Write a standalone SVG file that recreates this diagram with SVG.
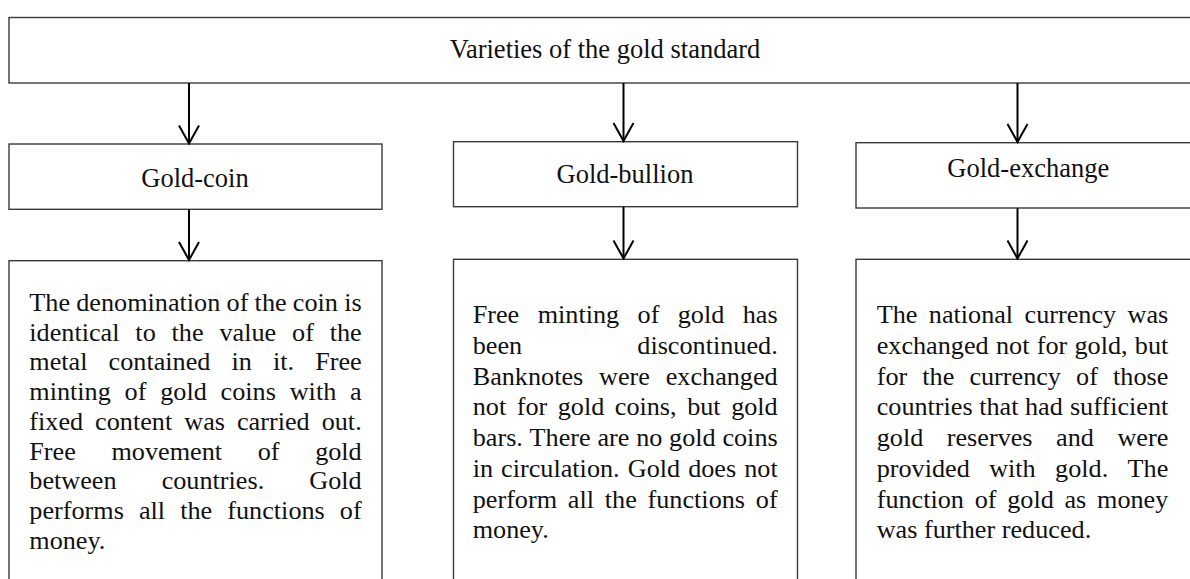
<svg xmlns="http://www.w3.org/2000/svg" width="1190" height="579" viewBox="0 0 1190 579">
<style>
.box{fill:#fff;stroke:#3a3a3a;stroke-width:1.4}
.lbl{font-size:26.5px;fill:#111;text-anchor:middle}
.bd{font-size:26.2px;fill:#111}
.e{text-anchor:end}
.arr{stroke:#000;stroke-width:2;fill:none}
</style>
<defs>
<marker id="ah" viewBox="-2 -12 22 24" refX="18" refY="0" markerWidth="22" markerHeight="24" markerUnits="userSpaceOnUse" orient="auto">
<path d="M0,-10 L18,0 L0,10" fill="none" stroke="#000" stroke-width="2"/>
</marker>
</defs>
<rect width="1190" height="579" fill="#fff"/>
<g font-family="'Liberation Serif', 'Times New Roman', Times, serif">
<g id="root">
<rect class="box" x="9" y="17.5" width="1200" height="65.5"/>
<text class="lbl" x="605" y="58.3">Varieties of the gold standard</text>
</g>
<g id="coin">
<rect class="box" x="9" y="144" width="373" height="65.3"/>
<text class="lbl" x="195" y="187.3">Gold-coin</text>
</g>
<g id="bullion">
<rect class="box" x="453.5" y="141.7" width="344" height="65"/>
<text class="lbl" x="625" y="183.3">Gold-bullion</text>
</g>
<g id="exchange">
<rect class="box" x="856" y="142.7" width="345" height="65.3"/>
<text class="lbl" x="1028.3" y="176.7">Gold-exchange</text>
</g>
<g id="coin-desc">
<rect class="box" x="9" y="260.7" width="373" height="340"/>
<text class="bd" y="311"><tspan x="29.3">The</tspan><tspan x="76.26">denomination</tspan><tspan x="226.58">of</tspan><tspan x="254.62">the</tspan><tspan x="292.86">coin</tspan></text>
<text class="bd e" x="361.7" y="311">is</text>
<text class="bd" y="340.7"><tspan x="29.3">identical</tspan><tspan x="135.37">to</tspan><tspan x="171.59">the</tspan><tspan x="219.45">value</tspan><tspan x="292.04">of</tspan></text>
<text class="bd e" x="361.7" y="340.7">the</text>
<text class="bd" y="370.4"><tspan x="29.3">metal</tspan><tspan x="108.59">contained</tspan><tspan x="231.53">in</tspan><tspan x="272.98">it.</tspan></text>
<text class="bd e" x="361.7" y="370.4">Free</text>
<text class="bd" y="400.1"><tspan x="29.3">minting</tspan><tspan x="124.62">of</tspan><tspan x="160.23">gold</tspan><tspan x="220.6">coins</tspan><tspan x="289.7">with</tspan></text>
<text class="bd e" x="361.7" y="400.1">a</text>
<text class="bd" y="429.8"><tspan x="29.3">fixed</tspan><tspan x="95.12">content</tspan><tspan x="184.23">was</tspan><tspan x="236.95">carried</tspan></text>
<text class="bd e" x="361.7" y="429.8">out.</text>
<text class="bd" y="459.5"><tspan x="29.3">Free</tspan><tspan x="111.47">movement</tspan><tspan x="257.7">of</tspan></text>
<text class="bd e" x="361.7" y="459.5">gold</text>
<text class="bd" y="489.2"><tspan x="29.3">between</tspan><tspan x="161.65">countries.</tspan></text>
<text class="bd e" x="361.7" y="489.2">Gold</text>
<text class="bd" y="518.9"><tspan x="29.3">performs</tspan><tspan x="138.95">all</tspan><tspan x="180.22">the</tspan><tspan x="227.31">functions</tspan></text>
<text class="bd e" x="361.7" y="518.9">of</text>
<text class="bd" x="29.3" y="548.6">money.</text>
</g>
<g id="bullion-desc">
<rect class="box" x="453.5" y="259.3" width="344" height="340"/>
<text class="bd" y="323.3"><tspan x="472.7">Free</tspan><tspan x="537.65">minting</tspan><tspan x="637.57">of</tspan><tspan x="677.78">gold</tspan></text>
<text class="bd e" x="777.7" y="323.3">has</text>
<text class="bd" x="472.7" y="354">been</text>
<text class="bd e" x="777.7" y="354">discontinued.</text>
<text class="bd" y="384.7"><tspan x="472.7">Banknotes</tspan><tspan x="599.04">were</tspan></text>
<text class="bd e" x="777.7" y="384.7">exchanged</text>
<text class="bd" y="415.4"><tspan x="472.7">not</tspan><tspan x="516.67">for</tspan><tspan x="557.71">gold</tspan><tspan x="614.78">coins,</tspan><tspan x="687.13">but</tspan></text>
<text class="bd e" x="777.7" y="415.4">gold</text>
<text class="bd" y="446.1"><tspan x="472.7">bars.</tspan><tspan x="529.62">There</tspan><tspan x="597.44">are</tspan><tspan x="636.15">no</tspan><tspan x="669.07">gold</tspan></text>
<text class="bd e" x="777.7" y="446.1">coins</text>
<text class="bd" y="476.8"><tspan x="472.7">in</tspan><tspan x="501.11">circulation.</tspan><tspan x="627.75">Gold</tspan><tspan x="688.18">does</tspan></text>
<text class="bd e" x="777.7" y="476.8">not</text>
<text class="bd" y="507.5"><tspan x="472.7">perform</tspan><tspan x="567.84">all</tspan><tspan x="604.79">the</tspan><tspan x="647.56">functions</tspan></text>
<text class="bd e" x="777.7" y="507.5">of</text>
<text class="bd" x="472.7" y="538.2">money.</text>
</g>
<g id="exchange-desc">
<rect class="box" x="856" y="259.3" width="345" height="340"/>
<text class="bd" y="323.3"><tspan x="876.7">The</tspan><tspan x="928.79">national</tspan><tspan x="1024.56">currency</tspan></text>
<text class="bd e" x="1168.3" y="323.3">was</text>
<text class="bd" y="354"><tspan x="876.7">exchanged</tspan><tspan x="995.96">not</tspan><tspan x="1036.67">for</tspan><tspan x="1074.45">gold,</tspan></text>
<text class="bd e" x="1168.3" y="354">but</text>
<text class="bd" y="384.7"><tspan x="876.7">for</tspan><tspan x="922.31">the</tspan><tspan x="969.39">currency</tspan><tspan x="1076.1">of</tspan></text>
<text class="bd e" x="1168.3" y="384.7">those</text>
<text class="bd" y="415.4"><tspan x="876.7">countries</tspan><tspan x="979.24">that</tspan><tspan x="1025.03">had</tspan></text>
<text class="bd e" x="1168.3" y="415.4">sufficient</text>
<text class="bd" y="446.1"><tspan x="876.7">gold</tspan><tspan x="946.76">reserves</tspan><tspan x="1056.07">and</tspan></text>
<text class="bd e" x="1168.3" y="446.1">were</text>
<text class="bd" y="476.8"><tspan x="876.7">provided</tspan><tspan x="989.17">with</tspan><tspan x="1055.08">gold.</tspan></text>
<text class="bd e" x="1168.3" y="476.8">The</text>
<text class="bd" y="507.5"><tspan x="876.7">function</tspan><tspan x="974.7">of</tspan><tspan x="1007.2">gold</tspan><tspan x="1064.46">as</tspan></text>
<text class="bd e" x="1168.3" y="507.5">money</text>
<text class="bd" x="876.7" y="538.2">was further reduced.</text>
</g>
</g>
<g id="connectors">
<path class="arr" d="M189,83 V143.5" marker-end="url(#ah)"/>
<path class="arr" d="M623.5,83 V141" marker-end="url(#ah)"/>
<path class="arr" d="M1017.5,83 V142" marker-end="url(#ah)"/>
<path class="arr" d="M189,209.5 V260" marker-end="url(#ah)"/>
<path class="arr" d="M623.5,207 V258.5" marker-end="url(#ah)"/>
<path class="arr" d="M1017.5,208 V258.5" marker-end="url(#ah)"/>
</g>
</svg>
